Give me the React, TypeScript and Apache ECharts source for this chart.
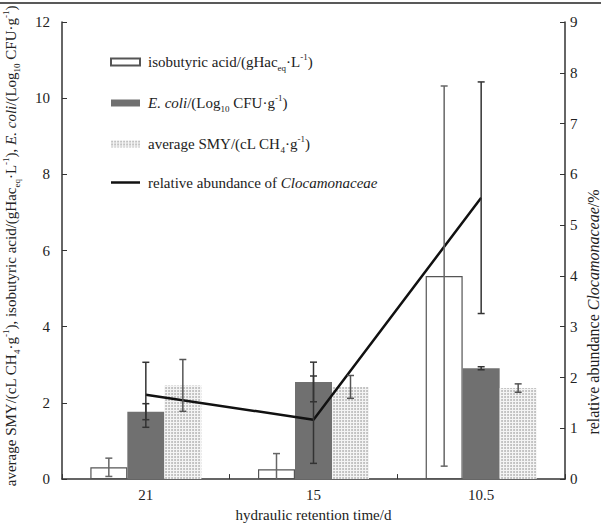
import React, { useEffect, useRef } from "react";
import * as echarts from "echarts";

const categories = ["21", "15", "10.5"];
const isobutyric = [0.31, 0.26, 5.33];
const isobutyricErr = [0.24, 0.41, 4.99];
const ecoli = [1.77, 2.55, 2.91];
const ecoliErr = [0.21, 0.52, 0.04];
const smy = [2.46, 2.42, 2.39];
const smyErr = [0.68, 0.3, 0.11];
const abundance = [1.66, 1.17, 5.54];
const abundanceErr = [0.64, 0.86, 2.28];
const leftTicks = { min: 0, max: 12, interval: 2 };
const rightTicks = { min: 0, max: 9, interval: 1 };

const SERIF = "'Liberation Serif', 'DejaVu Serif', serif";
const BAR_W = 37;

const richStyles = {
  n: { fontSize: 15, fontFamily: SERIF, color: "#222", lineHeight: 20 },
  i: { fontSize: 15, fontFamily: SERIF, color: "#222", fontStyle: "italic", lineHeight: 20 },
  sub: { fontSize: 9, fontFamily: SERIF, color: "#222", lineHeight: 11, verticalAlign: "bottom" },
  sup: { fontSize: 9, fontFamily: SERIF, color: "#222", lineHeight: 11, verticalAlign: "top" },
};

const legendText: Record<string, string> = {
  "isobutyric acid": "{n|isobutyric acid/(gHac}{sub|eq}{n|·L}{sup|-1}{n|)}",
  "E. coli": "{i|E. coli}{n|/(Log}{sub|10}{n| CFU·g}{sup|-1}{n|)}",
  "average SMY": "{n|average SMY/(cL CH}{sub|4}{n|·g}{sup|-1}{n|)}",
  "relative abundance": "{n|relative abundance of }{i|Clocamonaceae}",
};

function errData(vals: number[], errs: number[]) {
  return vals.map((v, i) => [i, v - errs[i], v + errs[i]]);
}

function makeErrSeries(name: string, vals: number[], errs: number[], offset: number, yAxisIndex: number, color: string) {
  return {
    type: "custom",
    name: name + " error",
    yAxisIndex,
    clip: true,
    z: 5,
    data: errData(vals, errs),
    encode: { x: 0, y: [1, 2] },
    renderItem: (params: any, api: any) => {
      const idx = api.value(0);
      const x = api.coord([idx, 0])[0] + offset;
      const yLow = api.coord([idx, api.value(1)])[1];
      const yHigh = api.coord([idx, api.value(2)])[1];
      const cap = 3.5;
      const st = { stroke: color, lineWidth: 1.5 };
      return {
        type: "group",
        children: [
          { type: "line", shape: { x1: x, y1: yLow, x2: x, y2: yHigh }, style: st },
          { type: "line", shape: { x1: x - cap, y1: yHigh, x2: x + cap, y2: yHigh }, style: st },
          { type: "line", shape: { x1: x - cap, y1: yLow, x2: x + cap, y2: yLow }, style: st },
        ],
      };
    },
  };
}

export default function App() {
  const ref = useRef<HTMLDivElement>(null);
  useEffect(() => {
    if (!ref.current) return;
    const chart = echarts.init(ref.current, null, { renderer: "svg" });
    const axisLabel = { fontFamily: SERIF, fontSize: 15, color: "#222" };
    chart.setOption({
      animation: false,
      backgroundColor: "#fff",
      grid: { left: 62, right: 36, top: 22, bottom: 37 },
      legend: {
        orient: "vertical",
        left: 110,
        top: 52,
        padding: 0,
        itemWidth: 29,
        itemHeight: 7,
        itemGap: 21,
        selectedMode: false,
        data: [
          { name: "isobutyric acid", icon: "rect" },
          { name: "E. coli", icon: "rect" },
          { name: "average SMY", icon: "rect" },
          { name: "relative abundance", icon: "path://M0,0H29V2.5H0Z" },
        ],
        formatter: (name: string) => legendText[name] || name,
        textStyle: { fontFamily: SERIF, fontSize: 15, color: "#222", padding: [0, 0, 0, 3], rich: richStyles },
      },
      xAxis: {
        type: "category",
        data: categories,
        boundaryGap: true,
        axisLine: { show: true, lineStyle: { color: "#333", width: 1.5 } },
        axisTick: { show: true, inside: true, length: 5, alignWithLabel: false, interval: 0, lineStyle: { color: "#333" } },
        axisLabel: { ...axisLabel, margin: 8 },
        name: "hydraulic retention time/d",
        nameLocation: "middle",
        nameGap: 27,
        nameTextStyle: { fontFamily: SERIF, fontSize: 15, color: "#222" },
        splitLine: { show: false },
      },
      yAxis: [
        {
          type: "value",
          ...leftTicks,
          axisLine: { show: true, lineStyle: { color: "#333", width: 1.5 } },
          axisTick: { show: true, inside: true, length: 5, lineStyle: { color: "#333" } },
          axisLabel: { ...axisLabel, margin: 12 },
          splitLine: { show: false },
        },
        {
          type: "value",
          ...rightTicks,
          position: "right",
          axisLine: { show: true, lineStyle: { color: "#333", width: 1.5 } },
          axisTick: { show: true, inside: true, length: 5, lineStyle: { color: "#333" } },
          axisLabel: { ...axisLabel, margin: 5 },
          splitLine: { show: false },
        },
      ],
      graphic: [
        { type: "line", shape: { x1: 0, y1: 3, x2: 601, y2: 3 }, style: { stroke: "#222", lineWidth: 1.5 }, silent: true },
        {
          type: "text",
          x: 11,
          y: 246,
          rotation: Math.PI / 2,
          silent: true,
          style: {
            text:
              "{n|average SMY/(cL CH}{sub|4}{n|·g}{sup|-1}{n|), isobutyric acid/(gHac}{sub|eq}{n|·L}{sup|-1}{n|), }{i|E. coli}{n|/(Log}{sub|10}{n| CFU·g}{sup|-1}{n|)}",
            align: "center",
            verticalAlign: "middle",
            fontFamily: SERIF,
            fontSize: 15,
            fill: "#222",
            rich: {
              n: { fontSize: 15, fontFamily: SERIF, fill: "#222", lineHeight: 20 },
              i: { fontSize: 15, fontFamily: SERIF, fill: "#222", fontStyle: "italic", lineHeight: 20 },
              sub: { fontSize: 9, fontFamily: SERIF, fill: "#222", lineHeight: 11, verticalAlign: "bottom" },
              sup: { fontSize: 9, fontFamily: SERIF, fill: "#222", lineHeight: 11, verticalAlign: "top" },
            },
          },
        },
        {
          type: "text",
          x: 593,
          y: 312,
          rotation: Math.PI / 2,
          silent: true,
          style: {
            text: "{n|relative abundance }{i|Clocamonaceae}{n|/%}",
            align: "center",
            verticalAlign: "middle",
            fontFamily: SERIF,
            fontSize: 16,
            fill: "#222",
            rich: {
              n: { fontSize: 16, fontFamily: SERIF, fill: "#222" },
              i: { fontSize: 16, fontFamily: SERIF, fill: "#222", fontStyle: "italic" },
            },
          },
        },
      ],
      series: [
        {
          type: "bar",
          name: "isobutyric acid",
          data: isobutyric,
          barWidth: BAR_W,
          barGap: "0%",
          itemStyle: { color: "#ffffff", borderColor: "#555", borderWidth: 1.2 },
          z: 2,
        },
        {
          type: "bar",
          name: "E. coli",
          data: ecoli,
          barWidth: BAR_W,
          barGap: "0%",
          itemStyle: { color: "#707070" },
          z: 2,
        },
        {
          type: "bar",
          name: "average SMY",
          data: smy,
          barWidth: BAR_W,
          barGap: "0%",
          itemStyle: {
            color: "#f4f4f4",
            decal: {
              symbol: "circle",
              symbolSize: 0.9,
              dashArrayX: [2, 1],
              dashArrayY: [2, 1],
              color: "#b4b4b4",
              rotation: 0,
            },
          },
          z: 2,
        },
        {
          type: "line",
          name: "relative abundance",
          yAxisIndex: 1,
          data: abundance,
          symbol: "none",
          lineStyle: { color: "#111", width: 2.5 },
          itemStyle: { color: "#111" },
          z: 4,
        },
        makeErrSeries("isobutyric acid", isobutyric, isobutyricErr, -BAR_W, 0, "#666"),
        makeErrSeries("E. coli", ecoli, ecoliErr, 0, 0, "#333"),
        makeErrSeries("average SMY", smy, smyErr, BAR_W, 0, "#555"),
        makeErrSeries("relative abundance", abundance, abundanceErr, 0, 1, "#333"),
      ],
    });
    return () => chart.dispose();
  }, []);
  return <div ref={ref} style={{ position: "fixed", left: 0, top: 0, width: 601, height: 527 }} />;
}
